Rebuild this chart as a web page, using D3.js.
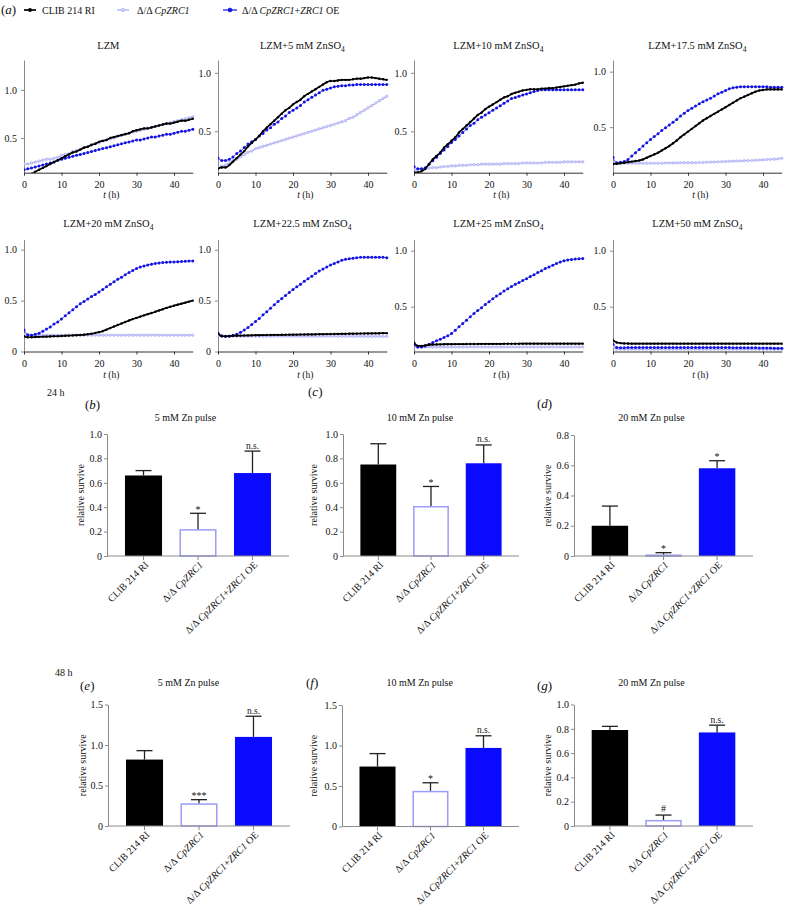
<!DOCTYPE html>
<html><head><meta charset="utf-8">
<script src="https://cdn.jsdelivr.net/npm/d3@7"></script>
<style>
body{margin:0;background:#fff}
svg{display:block}
svg text{font-family:"Liberation Serif","Tinos","Times New Roman","Times","DejaVu Serif",serif !important;fill:#111}
</style>
</head><body>
<svg id="c" width="786" height="913"></svg>
<script>
// ---------------- DATA ----------------
const hours = [0,1,2,3,4,5,6,7,8,9,10,11,12,13,14,15,16,17,18,19,20,21,22,23,24,25,26,27,28,29,30,31,32,33,34,35,36,37,38,39,40,41,42,43,44,45];
const xTicks = [0,10,20,30,40];
const strainNames = ["CLIB 214 RI","Δ/Δ CpZRC1","Δ/Δ CpZRC1+ZRC1 OE"];
const znConc = [null,"5","10","17.5","20","22.5","25","50"];

// panel 1: LZM
const p1Black=[0.10,0.11,0.13,0.15,0.17,0.19,0.21,0.23,0.25,0.27,0.29,0.31,0.33,0.35,0.36,0.38,0.40,0.41,0.43,0.44,0.46,0.47,0.48,0.50,0.51,0.52,0.53,0.54,0.55,0.57,0.58,0.59,0.60,0.60,0.61,0.62,0.63,0.64,0.65,0.65,0.66,0.67,0.68,0.68,0.69,0.70];
const p1Lav=[0.23,0.23,0.24,0.25,0.26,0.27,0.28,0.28,0.29,0.30,0.32,0.33,0.34,0.36,0.37,0.38,0.40,0.41,0.42,0.44,0.45,0.47,0.48,0.49,0.50,0.52,0.53,0.54,0.55,0.56,0.57,0.58,0.59,0.60,0.61,0.62,0.63,0.64,0.65,0.66,0.67,0.68,0.69,0.70,0.71,0.72];
const p1Blue=[0.17,0.18,0.19,0.20,0.21,0.22,0.23,0.24,0.25,0.27,0.28,0.29,0.30,0.31,0.32,0.33,0.34,0.35,0.36,0.37,0.38,0.39,0.40,0.41,0.42,0.43,0.44,0.45,0.46,0.47,0.48,0.48,0.49,0.50,0.51,0.51,0.52,0.53,0.54,0.54,0.55,0.56,0.57,0.57,0.58,0.59];
// panel 2: 5 mM
const p2Black=[0.18,0.19,0.19,0.21,0.24,0.27,0.30,0.33,0.37,0.40,0.43,0.46,0.50,0.53,0.56,0.59,0.62,0.65,0.68,0.70,0.73,0.75,0.77,0.80,0.82,0.84,0.86,0.88,0.90,0.92,0.93,0.93,0.935,0.94,0.94,0.94,0.945,0.95,0.95,0.955,0.96,0.96,0.955,0.95,0.945,0.94];
const p2Lav=[0.19,0.20,0.21,0.23,0.25,0.26,0.28,0.30,0.32,0.33,0.35,0.36,0.37,0.38,0.39,0.40,0.41,0.42,0.43,0.44,0.45,0.46,0.47,0.48,0.49,0.50,0.51,0.52,0.53,0.54,0.55,0.56,0.57,0.58,0.59,0.61,0.62,0.64,0.66,0.68,0.70,0.72,0.74,0.76,0.78,0.80];
const p2Blue=[0.27,0.25,0.25,0.26,0.28,0.31,0.33,0.36,0.39,0.41,0.43,0.46,0.48,0.51,0.53,0.56,0.58,0.61,0.63,0.66,0.68,0.70,0.72,0.75,0.77,0.79,0.81,0.83,0.85,0.86,0.87,0.88,0.885,0.89,0.89,0.895,0.895,0.90,0.90,0.90,0.90,0.90,0.90,0.90,0.90,0.90];
// panel 3: 10 mM
const p3Black=[0.15,0.15,0.16,0.18,0.22,0.26,0.29,0.32,0.36,0.39,0.42,0.45,0.49,0.52,0.55,0.58,0.61,0.64,0.66,0.69,0.71,0.73,0.75,0.77,0.79,0.80,0.82,0.83,0.84,0.85,0.855,0.86,0.86,0.86,0.865,0.865,0.87,0.87,0.875,0.88,0.885,0.89,0.895,0.90,0.91,0.915];
const p3Lav=[0.17,0.175,0.18,0.18,0.185,0.19,0.19,0.195,0.20,0.20,0.205,0.205,0.21,0.21,0.21,0.215,0.215,0.215,0.22,0.22,0.22,0.22,0.22,0.22,0.225,0.225,0.225,0.225,0.225,0.23,0.23,0.23,0.23,0.23,0.23,0.235,0.235,0.235,0.235,0.235,0.24,0.24,0.24,0.24,0.24,0.24];
const p3Blue=[0.20,0.18,0.18,0.19,0.22,0.25,0.28,0.31,0.34,0.37,0.405,0.43,0.46,0.49,0.52,0.55,0.57,0.60,0.62,0.64,0.66,0.68,0.70,0.72,0.74,0.76,0.78,0.79,0.80,0.81,0.82,0.83,0.84,0.85,0.855,0.855,0.855,0.855,0.855,0.855,0.855,0.855,0.855,0.855,0.855,0.855];
// panel 4: 17.5 mM
const p4Black=[0.17,0.17,0.175,0.18,0.185,0.19,0.195,0.20,0.21,0.225,0.24,0.255,0.27,0.29,0.31,0.33,0.355,0.38,0.41,0.435,0.46,0.485,0.51,0.535,0.56,0.58,0.60,0.62,0.64,0.66,0.68,0.70,0.72,0.74,0.76,0.775,0.79,0.805,0.82,0.83,0.835,0.84,0.84,0.84,0.84,0.84];
const p4Lav=[0.18,0.175,0.175,0.175,0.175,0.175,0.175,0.175,0.175,0.175,0.175,0.175,0.175,0.175,0.178,0.178,0.178,0.178,0.18,0.18,0.18,0.18,0.18,0.182,0.182,0.184,0.185,0.186,0.188,0.19,0.19,0.192,0.194,0.195,0.196,0.198,0.20,0.20,0.202,0.204,0.206,0.208,0.21,0.212,0.215,0.22];
const p4Blue=[0.23,0.18,0.185,0.19,0.21,0.24,0.27,0.30,0.33,0.36,0.39,0.415,0.44,0.47,0.495,0.52,0.545,0.57,0.60,0.625,0.65,0.67,0.69,0.71,0.73,0.745,0.76,0.78,0.80,0.815,0.83,0.845,0.855,0.86,0.865,0.865,0.865,0.865,0.865,0.865,0.865,0.865,0.86,0.86,0.86,0.86];
// panel 5: 20 mM
const p5Black=[0.15,0.14,0.14,0.142,0.144,0.145,0.146,0.148,0.15,0.15,0.152,0.154,0.156,0.158,0.16,0.162,0.165,0.17,0.175,0.182,0.19,0.20,0.215,0.23,0.245,0.26,0.275,0.29,0.305,0.318,0.33,0.343,0.355,0.367,0.378,0.39,0.402,0.415,0.428,0.44,0.45,0.46,0.47,0.48,0.49,0.50];
const p5Lav=[0.165,0.16,0.16,0.16,0.16,0.16,0.16,0.16,0.16,0.16,0.16,0.16,0.16,0.16,0.16,0.16,0.16,0.16,0.16,0.16,0.16,0.16,0.16,0.16,0.16,0.16,0.16,0.16,0.16,0.16,0.16,0.16,0.16,0.16,0.16,0.16,0.16,0.16,0.16,0.16,0.16,0.16,0.16,0.16,0.16,0.16];
const p5Blue=[0.21,0.165,0.16,0.17,0.18,0.20,0.22,0.24,0.27,0.29,0.32,0.35,0.38,0.41,0.44,0.47,0.49,0.515,0.54,0.56,0.585,0.61,0.635,0.66,0.685,0.71,0.73,0.755,0.775,0.795,0.815,0.83,0.84,0.85,0.858,0.865,0.87,0.873,0.876,0.878,0.88,0.882,0.884,0.886,0.888,0.89];
// panel 6: 22.5 mM
const p6Black=[0.175,0.15,0.15,0.152,0.154,0.155,0.156,0.157,0.158,0.159,0.16,0.16,0.161,0.162,0.162,0.163,0.163,0.164,0.164,0.165,0.165,0.166,0.167,0.167,0.168,0.168,0.169,0.17,0.17,0.171,0.172,0.172,0.173,0.174,0.174,0.175,0.175,0.176,0.177,0.177,0.178,0.178,0.179,0.179,0.18,0.18];
const p6Lav=[0.155,0.15,0.15,0.15,0.15,0.15,0.15,0.15,0.15,0.15,0.15,0.15,0.15,0.15,0.15,0.15,0.15,0.15,0.15,0.15,0.15,0.15,0.15,0.15,0.15,0.15,0.15,0.15,0.15,0.15,0.15,0.15,0.149,0.149,0.149,0.149,0.149,0.149,0.149,0.149,0.148,0.148,0.148,0.148,0.148,0.148];
const p6Blue=[0.18,0.155,0.148,0.15,0.16,0.17,0.19,0.21,0.235,0.265,0.295,0.325,0.36,0.39,0.425,0.46,0.49,0.52,0.55,0.58,0.61,0.635,0.66,0.69,0.715,0.74,0.765,0.79,0.81,0.83,0.85,0.865,0.88,0.895,0.905,0.91,0.917,0.92,0.925,0.925,0.925,0.925,0.925,0.925,0.925,0.92];
// panel 7: 25 mM
const p7Black=[0.18,0.15,0.15,0.155,0.16,0.162,0.163,0.164,0.165,0.165,0.165,0.166,0.166,0.166,0.167,0.167,0.167,0.167,0.168,0.168,0.168,0.168,0.168,0.168,0.169,0.169,0.169,0.169,0.169,0.17,0.17,0.17,0.17,0.17,0.17,0.17,0.17,0.17,0.17,0.17,0.17,0.17,0.17,0.17,0.17,0.17];
const p7Lav=[0.145,0.14,0.14,0.14,0.14,0.14,0.14,0.14,0.14,0.14,0.14,0.14,0.14,0.14,0.14,0.14,0.14,0.14,0.14,0.14,0.14,0.14,0.14,0.14,0.14,0.14,0.14,0.14,0.14,0.14,0.14,0.14,0.14,0.14,0.14,0.14,0.14,0.14,0.14,0.14,0.14,0.14,0.14,0.14,0.14,0.14];
const p7Blue=[0.157,0.14,0.14,0.15,0.165,0.18,0.195,0.21,0.225,0.24,0.26,0.29,0.32,0.35,0.38,0.41,0.44,0.465,0.49,0.52,0.545,0.57,0.595,0.615,0.64,0.66,0.68,0.70,0.715,0.735,0.75,0.77,0.785,0.805,0.82,0.84,0.855,0.87,0.885,0.90,0.91,0.918,0.922,0.925,0.928,0.93];
// panel 8: 50 mM
const p8Black=[0.20,0.18,0.175,0.172,0.171,0.17,0.17,0.17,0.17,0.17,0.17,0.17,0.17,0.17,0.17,0.17,0.17,0.17,0.17,0.17,0.17,0.17,0.17,0.17,0.17,0.17,0.17,0.17,0.17,0.17,0.17,0.17,0.17,0.17,0.17,0.17,0.17,0.17,0.17,0.17,0.17,0.17,0.17,0.17,0.17,0.17];
const p8Lav=[0.14,0.12,0.12,0.12,0.12,0.12,0.12,0.12,0.12,0.12,0.12,0.12,0.12,0.12,0.12,0.12,0.12,0.12,0.12,0.12,0.12,0.12,0.12,0.12,0.12,0.12,0.12,0.12,0.12,0.12,0.12,0.12,0.12,0.12,0.12,0.12,0.12,0.12,0.12,0.12,0.12,0.12,0.12,0.12,0.12,0.12];
const p8Blue=[0.165,0.135,0.133,0.134,0.135,0.135,0.135,0.135,0.135,0.135,0.135,0.135,0.135,0.135,0.135,0.135,0.135,0.135,0.135,0.135,0.135,0.135,0.135,0.135,0.135,0.135,0.135,0.135,0.135,0.135,0.135,0.135,0.134,0.134,0.134,0.134,0.133,0.133,0.133,0.132,0.132,0.131,0.131,0.13,0.13,0.13];

// bar charts (relative survive): mean, SD (upper), significance
const bMean=[0.66,0.22,0.68], bErr=[0.04,0.13,0.18], bSig=["","*","n.s."];
const cMean=[0.75,0.41,0.76], cErr=[0.17,0.16,0.15], cSig=["","*","n.s."];
const dMean=[0.20,0.01,0.58], dErr=[0.13,0.012,0.05], dSig=["","*","*"];
const eMean=[0.82,0.28,1.10], eErr=[0.11,0.045,0.255], eSig=["","***","n.s."];
const fMean=[0.74,0.44,0.97], fErr=[0.16,0.10,0.15], fSig=["","*","n.s."];
const gMean=[0.79,0.05,0.77], gErr=[0.03,0.04,0.06], gSig=["","#","n.s."];
const pulseTitles=["5 mM Zn pulse","10 mM Zn pulse","20 mM Zn pulse"];

// ---------------- DRAW ----------------
const FONT='"Liberation Serif","Tinos","Times New Roman","Times","DejaVu Serif",serif';
const svg = d3.select("#c").attr("font-family",FONT);
const C_BLACK="#000000", C_LAV="#a9a9f5", C_BLUE="#1212e4";
const labelParts = [
  [["CLIB 214 RI",false]],
  [["Δ/Δ ",false],["CpZRC1",true]],
  [["Δ/Δ ",false],["CpZRC1",true],["+",false],["ZRC1",true],[" OE",false]]
];
function addParts(t, parts){
  parts.forEach(p=>{ t.append("tspan").attr("font-style",p[1]?"italic":"normal").text(p[0]); });
}
function panelLetter(x,y,l){
  const t=svg.append("text").attr("x",x).attr("y",y).attr("font-size",13);
  t.append("tspan").text("(");
  t.append("tspan").attr("font-style","italic").text(l);
  t.append("tspan").text(")");
}

// legend
panelLetter(1,14,"a");
const legendX=[[24,36,42],[117,129,137],[223,237,242]];
const seriesStyle=[
  {c:C_BLACK,w:1.7,r:1.2,fill:C_BLACK},
  {c:C_LAV,w:1.2,r:1.3,fill:"#cfcffb"},
  {c:C_BLUE,w:0.7,r:1.5,fill:C_BLUE}
];
legendX.forEach((lx,i)=>{
  const s=seriesStyle[i];
  svg.append("line").attr("x1",lx[0]).attr("x2",lx[1]).attr("y1",10).attr("y2",10).attr("stroke",s.c).attr("stroke-width",Math.max(1.2,s.w));
  svg.append("circle").attr("cx",(lx[0]+lx[1])/2).attr("cy",10).attr("r",s.r+0.5).attr("fill",s.fill).attr("stroke",s.c).attr("stroke-width",0.6);
  const t=svg.append("text").attr("x",lx[2]).attr("y",13.5).attr("font-size",10);
  addParts(t,labelParts[i]);
});

// line panels
const panelX=[24,218,414,613];
const rows=[{top:60,bot:172.7,title:48.5,tl:197.5},{top:239.5,bot:351.5,title:226.5,tl:378}];
const lineData=[
  [p1Black,p1Lav,p1Blue],[p2Black,p2Lav,p2Blue],[p3Black,p3Lav,p3Blue],[p4Black,p4Lav,p4Blue],
  [p5Black,p5Lav,p5Blue],[p6Black,p6Lav,p6Blue],[p7Black,p7Lav,p7Blue],[p8Black,p8Lav,p8Blue]
];
const lineDomains=[[0.14,1.31],[0.145,1.11],[0.147,1.11],[0.09,1.105],[0,1.1],[0,1.1],[0.1,1.1],[0.1,1.1]];
const lineYTicks=[[0.5,1.0],[0.5,1.0],[0.5,1.0],[0.5,1.0],[0,0.5,1.0],[0,0.5,1.0],[0.5,1.0],[0.5,1.0]];
const W=168.75;
function styleAxisText(sel){ sel.selectAll("text").attr("font-size",10).attr("font-family",FONT).attr("fill","#222"); }
lineData.forEach((ser,k)=>{
  const row=rows[Math.floor(k/4)], x0=panelX[k%4];
  const x=d3.scaleLinear().domain([0,45]).range([x0,x0+W]);
  const y=d3.scaleLinear().domain(lineDomains[k]).range([row.bot,row.top]);
  const tt=svg.append("text").attr("x",x0+W/2).attr("y",row.title).attr("text-anchor","middle").attr("font-size",10.5);
  if(znConc[k]===null){ tt.text("LZM"); }
  else { tt.append("tspan").text("LZM+"+znConc[k]+" mM ZnSO"); tt.append("tspan").attr("font-size",7.5).attr("dy",3).text("4"); }
  const ya=svg.append("g").attr("transform",`translate(${x0},0)`)
    .call(d3.axisLeft(y).tickValues(lineYTicks[k]).tickSize(3).tickSizeOuter(0).tickPadding(4)
      .tickFormat(d=>d===0?"0":d3.format(".1f")(d)));
  ya.attr("font-family",FONT);
  ya.select(".domain").attr("stroke","#8a8a8a");
  ya.selectAll(".tick line").attr("stroke","#8a8a8a");
  styleAxisText(ya);
  const xa=svg.append("g").attr("transform",`translate(0,${row.bot})`)
    .call(d3.axisBottom(x).tickValues(xTicks).tickSize(3).tickSizeOuter(0).tickPadding(5));
  xa.attr("font-family",FONT);
  xa.select(".domain").attr("stroke","#333");
  xa.selectAll(".tick line").attr("stroke","#333");
  styleAxisText(xa);
  const tl=svg.append("text").attr("x",x0+W/2+3).attr("y",row.tl).attr("text-anchor","middle").attr("font-size",9.5);
  tl.append("tspan").attr("font-style","italic").text("t");
  tl.append("tspan").text(" (h)");
  const cid="clip"+k;
  svg.append("clipPath").attr("id",cid).append("rect").attr("x",x0).attr("y",row.top).attr("width",W+3).attr("height",row.bot-row.top);
  const g=svg.append("g").attr("clip-path",`url(#${cid})`);
  [1,2,0].forEach(si=>{
    const s=seriesStyle[si], vals=ser[si];
    const line=d3.line().curve(d3.curveMonotoneX).x((d,i)=>x(hours[i])).y(d=>y(d));
    g.append("path").attr("d",line(vals)).attr("fill","none").attr("stroke",s.c).attr("stroke-width",s.w);
    g.selectAll(null).data(vals).enter().append("circle")
      .attr("cx",(d,i)=>x(hours[i])).attr("cy",d=>y(d)).attr("r",s.r)
      .attr("fill",s.fill).attr("stroke",si===1?s.c:"none").attr("stroke-width",0.5);
  });
});

// bar panels
const barPanels=[
  {m:bMean,e:bErr,s:bSig,ax0:107,ax1:289,y0:556,y1:434,max:1.0,ticks:[0,0.2,0.4,0.6,0.8,1.0],title:pulseTitles[0],tx:185.5,ty:420.5,l:"b",lx:85,ly:409,ylx:83.5},
  {m:cMean,e:cErr,s:cSig,ax0:343,ax1:519,y0:556,y1:434,max:1.0,ticks:[0,0.2,0.4,0.6,0.8,1.0],title:pulseTitles[1],tx:420,ty:420.5,l:"c",lx:308,ly:396,ylx:316.5},
  {m:dMean,e:dErr,s:dSig,ax0:574,ax1:753,y0:556,y1:435,max:0.8,ticks:[0,0.2,0.4,0.6,0.8],title:pulseTitles[2],tx:651.5,ty:420.5,l:"d",lx:537,ly:408,ylx:550.5},
  {m:eMean,e:eErr,s:eSig,ax0:108,ax1:290,y0:826,y1:704.5,max:1.5,ticks:[0,0.5,1.0,1.5],title:pulseTitles[0],tx:188.5,ty:686,l:"e",lx:80,ly:690,ylx:85.5},
  {m:fMean,e:fErr,s:fSig,ax0:342,ax1:519,y0:826.5,y1:705,max:1.5,ticks:[0,0.5,1.0,1.5],title:pulseTitles[1],tx:419.7,ty:686,l:"f",lx:306,ly:687,ylx:316.5},
  {m:gMean,e:gErr,s:gSig,ax0:574,ax1:753,y0:826,y1:704.5,max:1.0,ticks:[0,0.2,0.4,0.6,0.8,1.0],title:pulseTitles[2],tx:651.5,ty:686,l:"g",lx:537,ly:690,ylx:550.5}
];
svg.append("text").attr("x",47).attr("y",396).attr("font-size",10).text("24 h");
svg.append("text").attr("x",55).attr("y",675.5).attr("font-size",10).text("48 h");
const barFill=[C_BLACK,"#ffffff","#0a0aff"];
const barStroke=[C_BLACK,"#9c9cf8","#0a0aff"];
barPanels.forEach(p=>{
  const x=d3.scaleBand().domain(strainNames).range([p.ax0,p.ax1]).paddingInner(0.32).paddingOuter(0.33);
  const y=d3.scaleLinear().domain([0,p.max]).range([p.y0,p.y1]);
  panelLetter(p.lx,p.ly,p.l);
  svg.append("text").attr("x",p.tx).attr("y",p.ty).attr("text-anchor","middle").attr("font-size",10).text(p.title);
  svg.append("text").attr("transform",`translate(${p.ylx},${(p.y0+p.y1)/2}) rotate(-90)`).attr("text-anchor","middle").attr("font-size",10).text("relative survive");
  const ya=svg.append("g").attr("transform",`translate(${p.ax0},0)`)
    .call(d3.axisLeft(y).tickValues(p.ticks).tickSize(3).tickSizeOuter(0).tickPadding(2)
      .tickFormat(d=>d===0?"0":d3.format(".1f")(d)));
  ya.attr("font-family",FONT);
  ya.select(".domain").attr("stroke","#8a8a8a");
  ya.selectAll(".tick line").attr("stroke","#8a8a8a");
  styleAxisText(ya);
  strainNames.forEach((n,i)=>{
    const bx=x(n), bw=x.bandwidth();
    const top=y(p.m[i]);
    if(i===1){
      svg.append("rect").attr("x",bx+0.75).attr("y",top+0.75).attr("width",bw-1.5).attr("height",Math.max(0,p.y0-top-0.75))
        .attr("fill","#fff").attr("stroke",barStroke[i]).attr("stroke-width",1.5);
    } else {
      svg.append("rect").attr("x",bx).attr("y",top).attr("width",bw).attr("height",p.y0-top).attr("fill",barFill[i]);
    }
    const cx=bx+bw/2, et=y(p.m[i]+p.e[i]);
    svg.append("line").attr("x1",cx).attr("x2",cx).attr("y1",top).attr("y2",et).attr("stroke","#222").attr("stroke-width",1.3);
    svg.append("line").attr("x1",cx-8).attr("x2",cx+8).attr("y1",et).attr("y2",et).attr("stroke","#222").attr("stroke-width",1.3);
    if(p.s[i]) svg.append("text").attr("x",cx).attr("y",et-(p.s[i]==="n.s."?2.5:(p.s[i]==="#"?3:0.5))).attr("text-anchor","middle")
      .attr("font-size",p.s[i]==="n.s."?9.5:10).attr("fill","#333").text(p.s[i]);
    svg.append("line").attr("x1",cx).attr("x2",cx).attr("y1",p.y0).attr("y2",p.y0+4).attr("stroke","#8a8a8a");
    const lt=svg.append("text").attr("transform",`translate(${cx+3},${p.y0+7}) rotate(-45)`).attr("text-anchor","end").attr("dy","0.35em").attr("font-size",10);
    addParts(lt,labelParts[i]);
  });
  svg.append("line").attr("x1",p.ax0).attr("x2",p.ax1).attr("y1",p.y0).attr("y2",p.y0).attr("stroke","#8a8a8a");
});
</script>
</body></html>
